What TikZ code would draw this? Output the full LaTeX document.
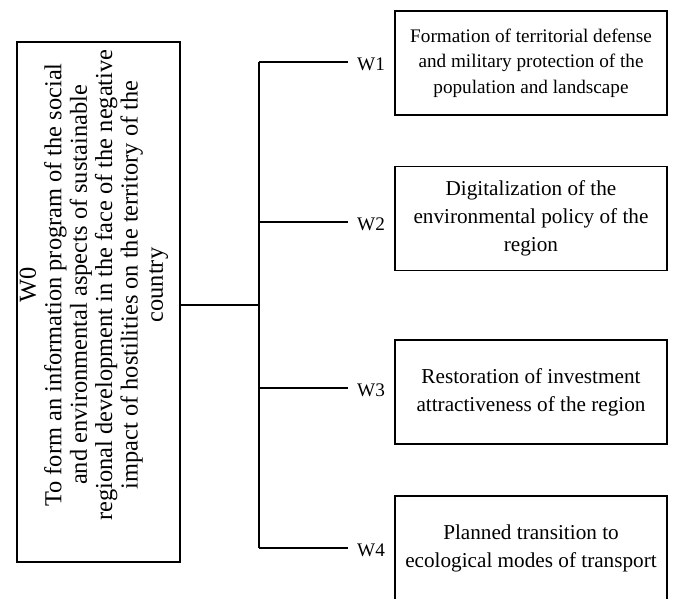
\documentclass[tikz,border=0pt]{standalone}
\usepackage{fontspec}
\setmainfont{Liberation Serif}
\begin{document}
\begin{tikzpicture}[x=1pt,y=-1pt,
  box/.style={draw, line width=1.2pt, minimum width=272pt, minimum height=104pt, align=center, inner sep=0pt},
  fsmall/.style={font=\fontsize{19.2}{25.5}\selectfont},
  fmid/.style={font=\fontsize{21.2}{28}\selectfont},
  conn/.style={line width=1.2pt},
  lbl/.style={font=\fontsize{19.2}{25.5}\selectfont, inner xsep=9pt, inner ysep=0pt, anchor=west, yshift=-2.5pt}]
\useasboundingbox (0,0) rectangle (674,598);

\node[draw, line width=1.2pt, minimum width=163pt, minimum height=520pt, inner sep=0pt] (w0) at (98.5,302) {};
\node[rotate=90, align=center, font=\fontsize{24.4}{25.4}\selectfont, inner sep=0pt] (w0t) at (94,285)
  {W0\\To form an information program of the social\\and environmental aspects of sustainable\\regional development in the face of the negative\\impact of hostilities on the territory of the\\country};

\node[box, fsmall] (b1) at (531,63) {Formation of territorial defense\\and military protection of the\\population and landscape};
\node[box, fmid] (b2) at (531,218.5) {Digitalization of the\\environmental policy of the\\region};
\node[box, fmid] (b3) at (531,392) {Restoration of investment\\attractiveness of the region};
\node[box, fmid] (b4) at (531,548) {Planned transition to\\ecological modes of transport};

\coordinate (hub) at (259,305);
\coordinate (t1) at (259,62);
\coordinate (t2) at (259,222);
\coordinate (t3) at (259,388);
\coordinate (t4) at (259,548);

\node[lbl] (l1) at (348,62) {W1};
\node[lbl] (l2) at (348,222) {W2};
\node[lbl] (l3) at (348,388) {W3};
\node[lbl] (l4) at (348,548) {W4};

\draw[conn] (w0.east |- hub) -- (hub);
\draw[conn] (t1) -- (t4);
\draw[conn] (t1) -- (t1 -| l1.west);
\draw[conn] (t2) -- (t2 -| l2.west);
\draw[conn] (t3) -- (t3 -| l3.west);
\draw[conn] (t4) -- (t4 -| l4.west);
\end{tikzpicture}
\end{document}
